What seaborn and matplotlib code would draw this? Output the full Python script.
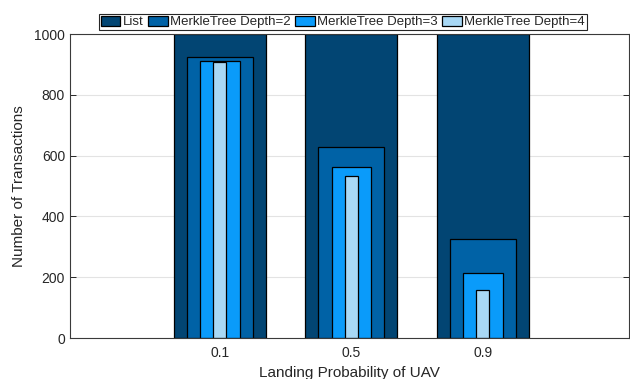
import matplotlib
matplotlib.use("Agg")
import matplotlib.pyplot as plt
from matplotlib.patches import Patch
import seaborn as sns
import pandas as pd

# Landing probabilities of the UAV and transaction counts per storage scheme
probabilities = ["0.1", "0.5", "0.9"]
list_counts = [1000, 1000, 1000]
depth2_counts = [925, 627, 326]
depth3_counts = [912, 563, 213]
depth4_counts = [907, 533, 157]

series_names = ["List", "MerkleTree Depth=2", "MerkleTree Depth=3", "MerkleTree Depth=4"]
series_values = [list_counts, depth2_counts, depth3_counts, depth4_counts]
series_colors = ["#024573", "#0062A6", "#0A9BFA", "#A8D8F5"]
bar_widths = [0.7, 0.5, 0.3, 0.1]

sns.set_theme(style="white")
plt.rcParams["font.family"] = ["Liberation Sans", "DejaVu Sans"]

fig = plt.figure(figsize=(6.3, 3.79), dpi=100)
ax = fig.add_axes([0.111, 0.108, 0.887, 0.802])

# Nested bars: widest (List) at the back, narrowest (depth 4) in front
for name, vals, color, w in zip(series_names, series_values, series_colors, bar_widths):
    df = pd.DataFrame({"prob": probabilities, "count": vals})
    sns.barplot(data=df, x="prob", y="count", color=color, width=w,
                edgecolor="black", linewidth=0.9, saturation=1, ax=ax,
                zorder=2)

ax.set_xlim(-1.14, 3.11)
ax.set_ylim(0, 1000)
ax.set_yticks([0, 200, 400, 600, 800, 1000])
ax.yaxis.grid(True, color="#e3e3e3", linewidth=0.8, zorder=0)
ax.set_axisbelow(True)

ax.set_xlabel("Landing Probability of UAV", fontsize=11, color="#262626", labelpad=4)
ax.set_ylabel("Number of Transactions", fontsize=11, color="#262626", labelpad=6)

ax.tick_params(axis="both", which="both", direction="in", length=4, width=0.7,
               colors="#262626", labelsize=10, top=True, right=True,
               bottom=True, left=True)
ax.tick_params(axis="x", pad=6)
for side in ["left", "right", "top", "bottom"]:
    ax.spines[side].set_visible(True)
    ax.spines[side].set_color("#3a3a3a")
    ax.spines[side].set_linewidth(0.8)

handles = [Patch(facecolor=c, edgecolor="black", linewidth=0.9) for c in series_colors]
leg = fig.legend(handles, series_names, loc="center", bbox_to_anchor=(0.544, 0.942),
                 ncol=4, fontsize=9.5, frameon=True, fancybox=False,
                 handlelength=1.5, handleheight=0.85, handletextpad=0.2,
                 columnspacing=0.3, borderpad=0.15, borderaxespad=0)
leg.get_frame().set_edgecolor("#262626")
leg.get_frame().set_linewidth(0.8)
leg.get_frame().set_facecolor("white")
leg.get_frame().set_alpha(1)

fig.savefig("out.png", dpi=100)
